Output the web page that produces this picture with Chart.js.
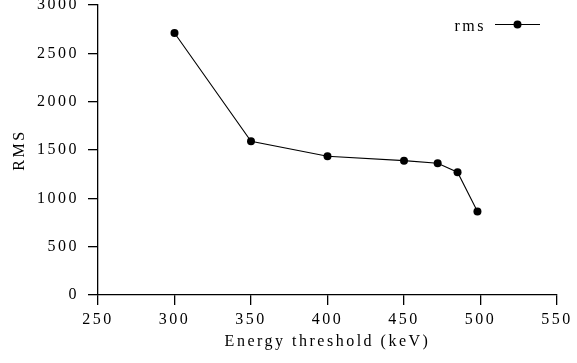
<!DOCTYPE html>
<html>
<head>
<meta charset="utf-8">
<script src="https://cdn.jsdelivr.net/npm/chart.js@4"></script>
<style>
  html, body { margin: 0; padding: 0; background: #fff; }
  #wrap { width: 577px; height: 363px; }
</style>
</head>
<body>
<div id="wrap"><canvas id="chart"></canvas></div>
<script>
// values
const thresholds = [300, 350, 400, 450, 472, 485, 498];
const rmsValues = [2710, 1590, 1435, 1390, 1363, 1270, 865];
const seriesLabel = 'rms';
const xTitle = 'Energy threshold (keV)';
const yTitle = 'RMS';

const FONT = "'Liberation Serif', 'DejaVu Serif', serif";
const SPACING = '2.5px';

// canvas letter spacing is reset whenever the canvas is resized, so set it each pass
const spacing = {
  id: 'spacing',
  beforeLayout(chart) { chart.ctx.letterSpacing = SPACING; },
  beforeDraw(chart) { chart.ctx.letterSpacing = SPACING; }
};

// legend in the top right: label, then a line with a dot
const lineLegend = {
  id: 'lineLegend',
  afterDraw(chart) {
    const ctx = chart.ctx;
    const ds = chart.data.datasets[0];
    const area = chart.chartArea;
    const xEnd = area.right - 17;
    const y = area.top + 19.5;
    ctx.save();
    ctx.letterSpacing = SPACING;
    ctx.font = '16px ' + FONT;
    ctx.fillStyle = '#000';
    ctx.textAlign = 'right';
    ctx.textBaseline = 'middle';
    ctx.fillText(ds.label, xEnd - 54, y + 2.5);
    ctx.strokeStyle = ds.borderColor;
    ctx.lineWidth = ds.borderWidth;
    ctx.beginPath();
    ctx.moveTo(xEnd - 45, y);
    ctx.lineTo(xEnd, y);
    ctx.stroke();
    ctx.fillStyle = ds.pointBackgroundColor;
    ctx.beginPath();
    ctx.arc(xEnd - 22.5, y, ds.pointRadius, 0, Math.PI * 2);
    ctx.fill();
    ctx.restore();
  }
};

const plain = v => String(v);

new Chart(document.getElementById('chart'), {
  type: 'line',
  data: {
    datasets: [{
      label: seriesLabel,
      data: thresholds.map((x, i) => ({ x: x, y: rmsValues[i] })),
      borderColor: '#000',
      borderWidth: 1.1,
      pointRadius: 4,
      pointBackgroundColor: '#000',
      pointBorderWidth: 0,
      tension: 0,
      fill: false
    }]
  },
  options: {
    responsive: true,
    maintainAspectRatio: false,
    animation: false,
    layout: { padding: { top: 5, right: 20, left: 10, bottom: 12 } },
    plugins: {
      legend: { display: false },
      tooltip: { enabled: false }
    },
    scales: {
      x: {
        type: 'linear',
        min: 250,
        max: 550,
        afterFit(scale) { scale.height = 56; scale.paddingLeft = 0; scale.paddingRight = 0; },
        border: { display: true, color: '#000', width: 1.3 },
        grid: { drawOnChartArea: false, drawTicks: true, tickLength: 10, color: '#000', lineWidth: 1.3 },
        ticks: { stepSize: 50, color: '#000', padding: 5, maxRotation: 0, callback: plain, font: { family: FONT, size: 16 } },
        title: { display: true, text: xTitle, color: '#000', padding: 0, font: { family: FONT, size: 16 } }
      },
      y: {
        min: 0,
        max: 3000,
        afterFit(scale) { scale.width = 88; scale.paddingTop = 0; scale.paddingBottom = 0; },
        border: { display: true, color: '#000', width: 1.3 },
        grid: { drawOnChartArea: false, drawTicks: true, tickLength: 10, color: '#000', lineWidth: 1.3 },
        ticks: { stepSize: 500, color: '#000', padding: 9, callback: plain, font: { family: FONT, size: 16 } },
        title: { display: true, text: yTitle, color: '#000', padding: 0, font: { family: FONT, size: 16 } }
      }
    }
  },
  plugins: [spacing, lineLegend]
});
</script>
</body>
</html>
